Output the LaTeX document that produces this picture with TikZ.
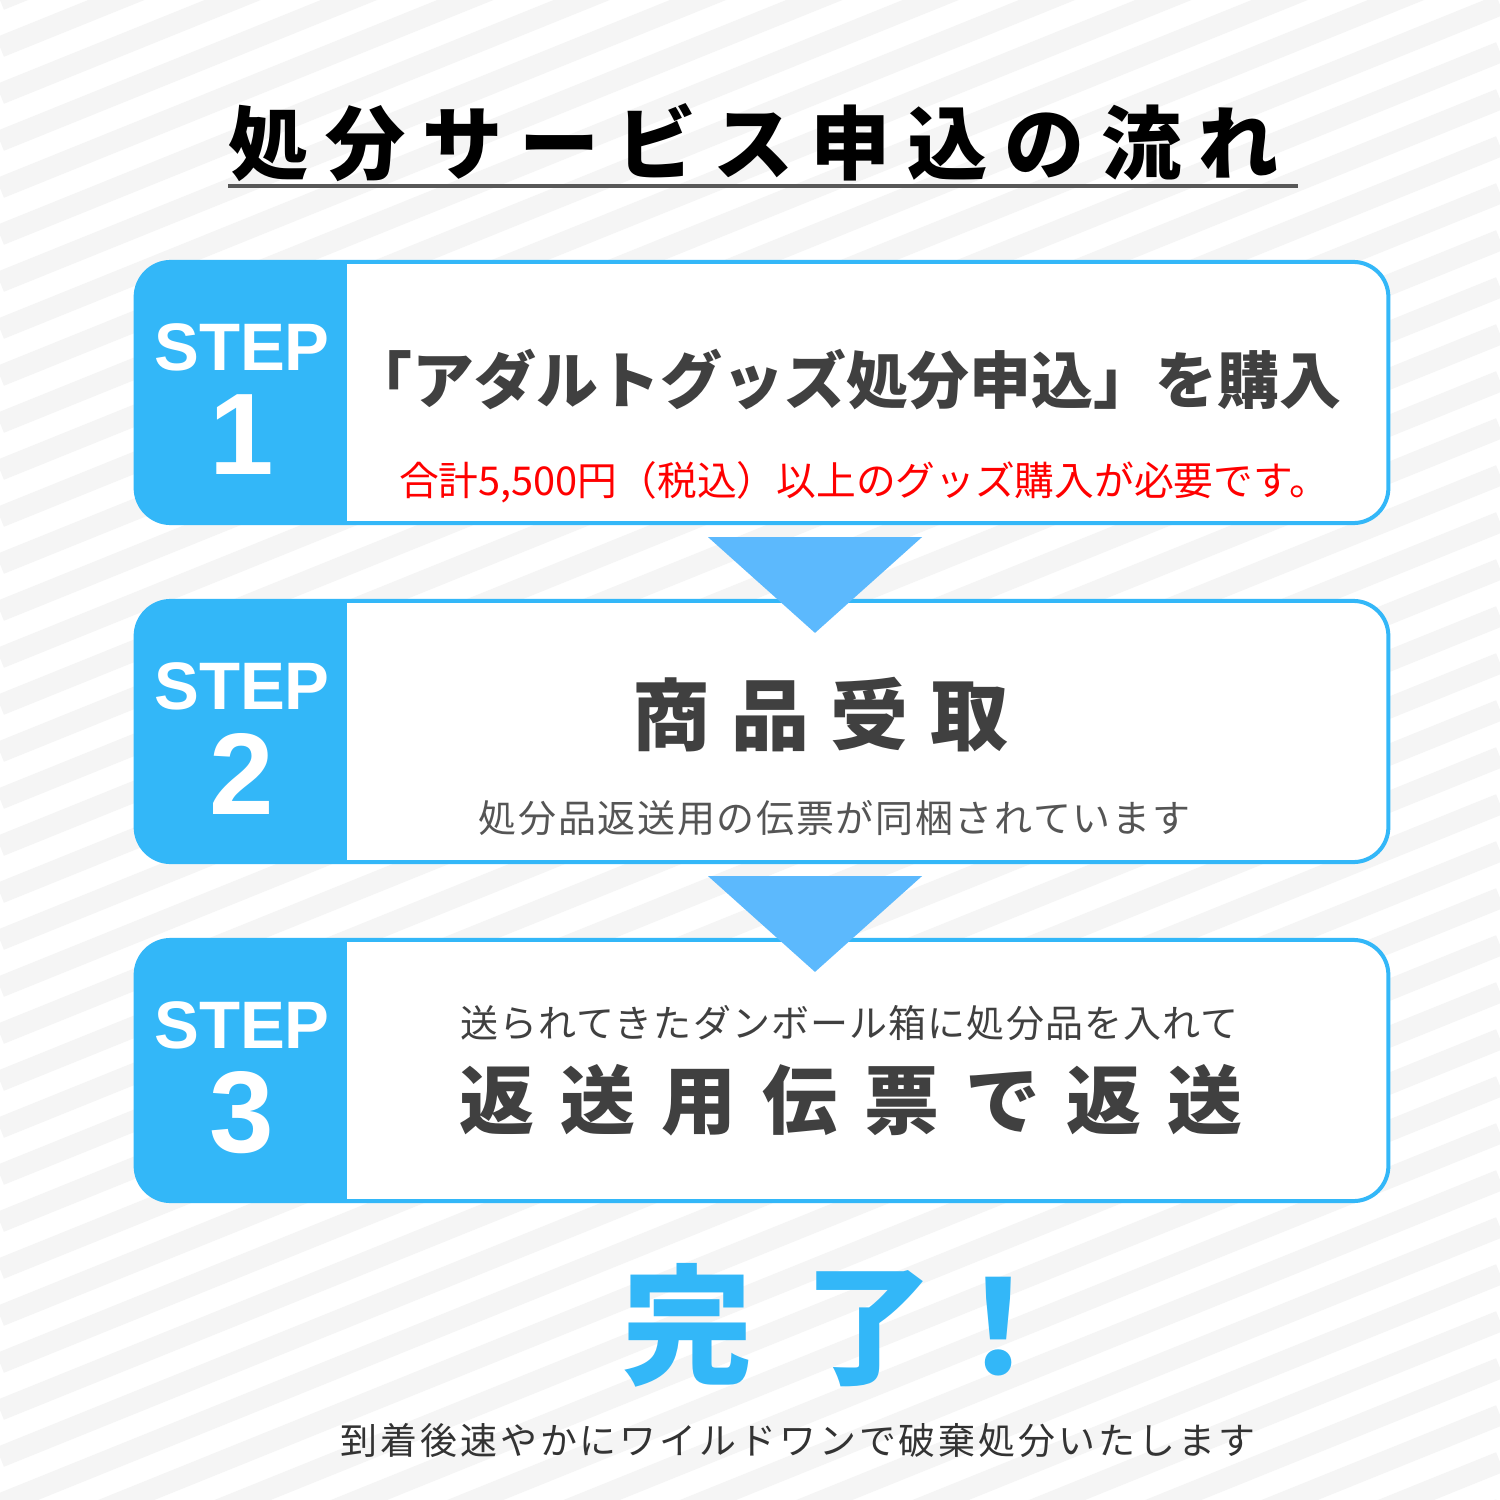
\documentclass[tikz,border=0pt]{standalone}
\usepackage{fontspec}
\usetikzlibrary{calc}

\newfontfamily\jpfont{Noto Sans CJK JP}
\newfontfamily\stepfont{Liberation Sans}
\newcommand\jpbold[2]{\jpfont\bfseries\fontsize{#1}{#1}\selectfont\addfontfeature{LetterSpace=#2}}
\newcommand\jpreg[2]{\jpfont\mdseries\fontsize{#1}{#1}\selectfont\addfontfeature{LetterSpace=#2}}

\definecolor{stepblue}{RGB}{51,183,248}
\definecolor{arrowblue}{RGB}{92,185,253}
\definecolor{stripegray}{RGB}{245,245,245}
\definecolor{textgray}{RGB}{64,64,64}
\definecolor{subgray}{RGB}{85,85,85}
\definecolor{linegray}{RGB}{88,88,88}

\tikzset{%
  stripe/.style={
    draw=stripegray,
    line width=0.21cm
  },
  stepbox/.style={
    draw=stepblue,
    line width=0.04cm,
    fill=white,
    rounded corners=0.35cm,
    minimum width=12.52cm,
    minimum height=2.61cm,
    path picture={\fill[stepblue, sharp corners] (path picture bounding box.north west)
      rectangle ([xshift=2.11cm]path picture bounding box.south west);}
  },
  steplabel/.style={
    text=white,
    inner sep=0,
    font=\stepfont\bfseries\fontsize{19.1}{19.1}\selectfont
  },
  stepnum/.style={
    text=white,
    inner sep=0,
    font=\stepfont\bfseries\fontsize{33}{33}\selectfont
  },
  jptext/.style={
    inner sep=0,
    text=textgray
  },
  arrowtri/.style={
    fill=arrowblue
  },
}

\begin{document}
\begin{tikzpicture}[x=0.01cm, y=-0.01cm]

\useasboundingbox (0,0) rectangle (1500,1500);

% BACKGROUND stripes
\begin{scope}
  \clip (0,0) rectangle (1500,1500);
  \fill[white] (0,0) rectangle (1500,1500);
  \foreach \k in {0,...,46}
    \draw[stripe] (0,\k*47) -- (1500,\k*47-606);
\end{scope}

% TITLE
\node[jptext, text=black, anchor=west, font={\jpbold{22.8}{21}}]
  (title) at (228,143) {処分サービス申込の流れ};
\draw[linegray, line width=0.045cm]
  ([yshift=-0.03cm]title.south west) -- ([xshift=0.18cm, yshift=-0.03cm]title.south east);

% STEP boxes
\foreach \n/\y in {1/262,2/601,3/940} {
  \node[stepbox] (box-\n) at (762,\y+130.5) {};
  \node[steplabel] (step-\n) at (242,\y+85) {STEP};
  \node[stepnum] (num-\n) at (242,\y+173) {\n};
}

% Arrows between boxes
\foreach \a/\b in {1/2,2/3}
  \fill[arrowtri] ($(box-\a.south)+(-54,12)$) -- ($(box-\a.south)+(160,12)$)
    -- ($(box-\b.north)+(53,34)$) -- cycle;

% STEP 1 texts
\node[jptext, font={\jpbold{17.6}{0}}]
  (head-1) at (846,380) {「アダルトグッズ処分申込」を購入};
\node[jptext, text=red, font={\jpreg{11.3}{0}}]
  (note-1) at (864,482) {合計5,500円（税込）以上のグッズ購入が必要です。};

% STEP 2 texts
\node[jptext, anchor=west, font={\jpbold{22.2}{27}}]
  (head-2) at (632,715) {商品受取};
\node[jptext, text=subgray, anchor=west, font={\jpreg{10.8}{4.5}}]
  (note-2) at (478,818) {処分品返送用の伝票が同梱されています};

% STEP 3 texts
\node[jptext, anchor=west, font={\jpreg{10.8}{3}}]
  (note-3) at (460,1023) {送られてきたダンボール箱に処分品を入れて};
\node[jptext, anchor=west, font={\jpbold{21.3}{35}}]
  (head-3) at (459,1100) {返送用伝票で返送};

% DONE
\node[jptext, text=stepblue, anchor=west, font={\jpbold{37}{0}}]
  (done) at (622,1325) {完\hspace{0.51cm}了！};
\node[jptext, text=black!80, anchor=west, font={\jpreg{10.5}{8}}]
  (final) at (340,1440) {到着後速やかにワイルドワンで破棄処分いたします};

\end{tikzpicture}
\end{document}
